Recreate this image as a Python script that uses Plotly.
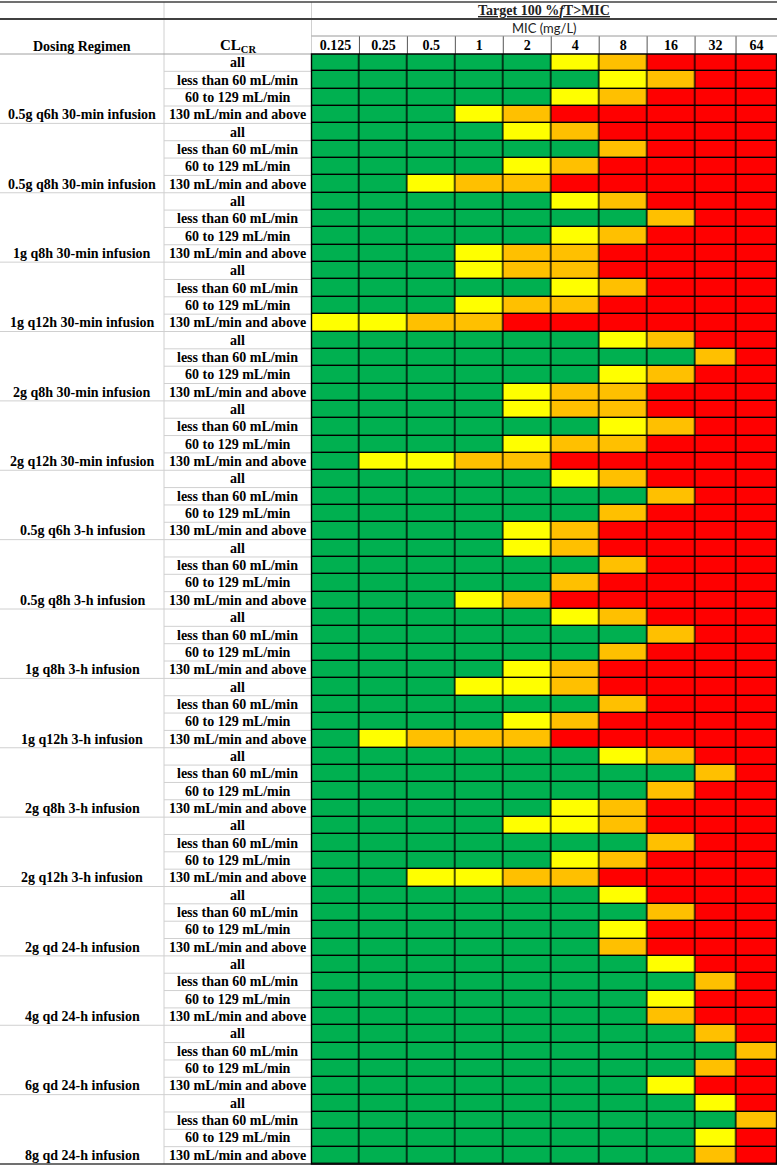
import plotly.graph_objects as go
import numpy as np

# ---------------- data ----------------
mic_labels = ["0.125", "0.25", "0.5", "1", "2", "4", "8", "16", "32", "64"]
clcr_labels = ["all", "less than 60 mL/min", "60 to 129 mL/min", "130 mL/min and above"]
regimens = [
    "0.5g q6h 30-min infusion", "0.5g q8h 30-min infusion", "1g q8h 30-min infusion",
    "1g q12h 30-min infusion", "2g q8h 30-min infusion", "2g q12h 30-min infusion",
    "0.5g q6h 3-h infusion", "0.5g q8h 3-h infusion", "1g q8h 3-h infusion",
    "1g q12h 3-h infusion", "2g q8h 3-h infusion", "2g q12h 3-h infusion",
    "2g qd 24-h infusion", "4g qd 24-h infusion", "6g qd 24-h infusion", "8g qd 24-h infusion",
]
# status codes: G green, Y yellow, O orange, R red ; one string per regimen, chars follow mic_labels
status_all = ["GGGGGYORRR", "GGGGYORRRR", "GGGGGYORRR", "GGGYOORRRR", "GGGGGGYORR", "GGGGYOORRR",
              "GGGGGYORRR", "GGGGYORRRR", "GGGGGYORRR", "GGGYYORRRR", "GGGGGGYORR", "GGGGYYORRR",
              "GGGGGGYRRR", "GGGGGGGYRR", "GGGGGGGGOR", "GGGGGGGGYR"]
status_lt60 = ["GGGGGGYORR", "GGGGGGORRR", "GGGGGGGORR", "GGGGGYORRR", "GGGGGGGGOR", "GGGGGGYORR",
               "GGGGGGGORR", "GGGGGGORRR", "GGGGGGGORR", "GGGGGGORRR", "GGGGGGGGOR", "GGGGGGGORR",
               "GGGGGGGORR", "GGGGGGGGOR", "GGGGGGGGGO", "GGGGGGGGGO"]
status_60_129 = ["GGGGGYORRR", "GGGGYORRRR", "GGGGGYORRR", "GGGYOORRRR", "GGGGGGYORR", "GGGGYOORRR",
                 "GGGGGGORRR", "GGGGGORRRR", "GGGGGGORRR", "GGGGYORRRR", "GGGGGGGORR", "GGGGGYORRR",
                 "GGGGGGYRRR", "GGGGGGGYRR", "GGGGGGGGOR", "GGGGGGGGYR"]
status_ge130 = ["GGGYORRRRR", "GGYOORRRRR", "GGGYOORRRR", "YYOORRRRRR", "GGGGYOORRR", "GYYOORRRRR",
                "GGGGYORRRR", "GGGYORRRRR", "GGGGYORRRR", "GYOOORRRRR", "GGGGGYORRR", "GGYYOORRRR",
                "GGGGGGORRR", "GGGGGGGORR", "GGGGGGGYRR", "GGGGGGGGOR"]
status_levels = ["G", "Y", "O", "R"]
status_colors = ["#00B050", "#FFFF00", "#FFC000", "#FF0000"]

# ---------------- layout constants (pixels) ----------------
W, H = 777, 1166
COL_W = [48, 48, 48, 48, 48, 48, 48, 48, 41, 41]   # MIC column widths
X_SPLIT1, X_SPLIT2 = 164, 311.5
Y_TOP, Y_TARGET, Y_MIC, GRID_TOP, GRID_BOT = 2, 19, 36, 54, 1164

def px(v):
    return v / W

def py(v):
    return 1 - v / H

edges = np.concatenate([[0], np.cumsum(COL_W)])
centers = (edges[:-1] + edges[1:]) / 2

# build matrix rows
z, row_names = [], []
for i, reg in enumerate(regimens):
    for lab, series in zip(clcr_labels, [status_all, status_lt60, status_60_129, status_ge130]):
        z.append([status_levels.index(c) for c in series[i]])
        row_names.append(lab)
n_rows = len(z)

cs = []
nlev = len(status_colors)
for k, col in enumerate(status_colors):
    cs.append([k / nlev, col])
    cs.append([(k + 1) / nlev, col])

fig = go.Figure(go.Heatmap(
    z=z, x=edges, y=list(range(n_rows)),
    zmin=-0.5, zmax=nlev - 0.5, colorscale=cs, showscale=False,
    xgap=1.4, ygap=1.4, hoverinfo="skip",
))

SERIF = "Liberation Serif"
fs = 14

fig.update_layout(
    width=W, height=H, margin=dict(l=0, r=0, t=0, b=0),
    paper_bgcolor="white", plot_bgcolor="black",
    xaxis=dict(domain=[px(X_SPLIT2), 1], range=[0, edges[-1]], side="top",
               tickvals=centers, ticktext=[f"<b>{m}</b>" for m in mic_labels],
               tickfont=dict(family=SERIF, size=fs, color="black"),
               showgrid=False, zeroline=False, ticks="", fixedrange=True),
    yaxis=dict(domain=[py(GRID_BOT), py(GRID_TOP)], range=[n_rows - 0.5, -0.5],
               showticklabels=False, showgrid=False, zeroline=False, ticks="", fixedrange=True),
    showlegend=False,
)

def note(x, y, text, yref="paper", size=fs, family=SERIF, color="black"):
    return dict(x=x, y=y, xref="paper", yref=yref, text=text, showarrow=False,
                xanchor="center", yanchor="middle",
                font=dict(family=family, size=size, color=color))

ann = []
for r, lab in enumerate(row_names):
    ann.append(note(px((X_SPLIT1 + X_SPLIT2) / 2), r, f"<b>{lab}</b>", yref="y"))
for i, reg in enumerate(regimens):
    ann.append(note(px(X_SPLIT1 / 2), 4 * i + 3, f"<b>{reg}</b>", yref="y"))
# headers
ann.append(note(px(X_SPLIT1 / 2), py(47), "<b>Dosing Regimen</b>"))
ann.append(note(px((X_SPLIT1 + X_SPLIT2) / 2), py(46), "<b>CL<sub>CR</sub></b>", size=fs + 1))
ann.append(note(px((X_SPLIT2 + W) / 2), py(11), "<b><u>Target 100 %<i>f</i>T&gt;MIC</u></b>", color="#222"))
ann.append(note(px((X_SPLIT2 + W) / 2), py(28), "MIC (mg/L)", size=13, family="Lato", color="#222"))
fig.update_layout(annotations=ann)

shapes = []
LIGHT = "#d0d0d0"
DARK = "#404040"
# row separators in CLCR column, group separators in regimen column
for r in range(1, n_rows):
    shapes.append(dict(type="line", xref="paper", yref="y", x0=px(X_SPLIT1), x1=px(X_SPLIT2),
                       y0=r - 0.5, y1=r - 0.5, line=dict(color=LIGHT, width=1)))
    if r % 4 == 0:
        shapes.append(dict(type="line", xref="paper", yref="y", x0=0, x1=px(X_SPLIT1),
                           y0=r - 0.5, y1=r - 0.5, line=dict(color=LIGHT, width=1)))
# vertical separators
shapes.append(dict(type="line", xref="paper", yref="paper", x0=px(X_SPLIT1), x1=px(X_SPLIT1),
                   y0=py(Y_TOP), y1=py(GRID_BOT), line=dict(color=LIGHT, width=1)))
shapes.append(dict(type="line", xref="paper", yref="paper", x0=px(X_SPLIT2), x1=px(X_SPLIT2),
                   y0=py(Y_TOP), y1=py(GRID_TOP), line=dict(color=LIGHT, width=1)))
for e in edges[1:-1]:
    shapes.append(dict(type="line", xref="x", yref="paper", x0=e, x1=e,
                       y0=py(Y_MIC), y1=py(GRID_TOP), line=dict(color="#555", width=1)))
# header horizontal lines
shapes.append(dict(type="line", xref="paper", yref="paper", x0=0, x1=1, y0=py(Y_TOP), y1=py(Y_TOP),
                   line=dict(color=DARK, width=1.5)))
shapes.append(dict(type="line", xref="paper", yref="paper", x0=0, x1=1, y0=py(Y_TARGET), y1=py(Y_TARGET),
                   line=dict(color=DARK, width=2)))
shapes.append(dict(type="line", xref="paper", yref="paper", x0=px(X_SPLIT2), x1=1, y0=py(Y_MIC), y1=py(Y_MIC),
                   line=dict(color="#9a9a9a", width=1)))
shapes.append(dict(type="line", xref="paper", yref="paper", x0=0, x1=px(X_SPLIT2), y0=py(GRID_TOP), y1=py(GRID_TOP),
                   line=dict(color="#a0a0a0", width=1)))
shapes.append(dict(type="line", xref="paper", yref="paper", x0=0, x1=1, y0=py(GRID_BOT), y1=py(GRID_BOT),
                   line=dict(color=DARK, width=1.5)))
# grid outline
shapes.append(dict(type="rect", xref="x domain", yref="y domain", x0=0, x1=1, y0=0, y1=1,
                   line=dict(color="black", width=1.4)))
fig.update_layout(shapes=shapes)

fig.write_html("out.html", config={"displayModeBar": False, "staticPlot": True},
               post_script="document.body.style.margin='0';")
